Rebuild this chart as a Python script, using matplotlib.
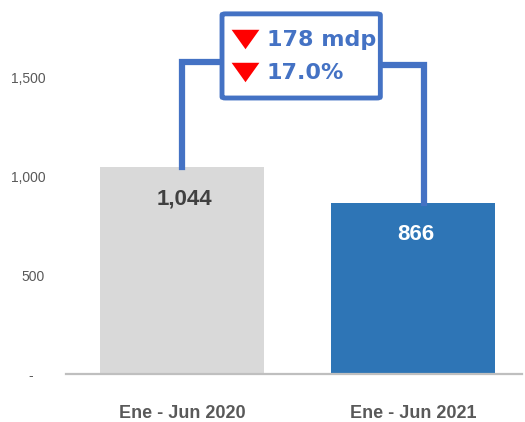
import matplotlib.pyplot as plt
from matplotlib.patches import FancyBboxPatch

# data
periods = ["Ene - Jun 2020", "Ene - Jun 2021"]
values = [1044, 866]
bar_colors = ["#D9D9D9", "#2E75B6"]
label_colors = ["#404040", "#FFFFFF"]
y_ticks = [0, 500, 1000, 1500]
y_tick_labels = ["-   ", "500", "1,000", "1,500"]
diff_abs = "178 mdp"
diff_pct = "17.0%"

line_blue = "#4472C4"
gray_txt = "#595959"

fig = plt.figure(figsize=(5.25, 4.22), dpi=100)
ax = fig.add_axes([66 / 525, 48 / 422, 456 / 525, 374 / 422])

x = list(range(len(values)))
ax.bar(x, values, width=0.708, color=bar_colors, zorder=2)
ax.set_xlim(-0.501, 1.469)
ax.set_ylim(0, 1889)

for i, v in enumerate(values):
    ax.text(i + 0.01, v - 160, f"{v:,}", ha="center", va="center",
            fontsize=16, fontweight="bold", color=label_colors[i],
            family="Liberation Sans")

# axes styling
for s in ["top", "right", "left"]:
    ax.spines[s].set_visible(False)
ax.spines["bottom"].set_color("#BFBFBF")
ax.spines["bottom"].set_linewidth(1.6)
ax.set_yticks(y_ticks)
ax.set_yticklabels(y_tick_labels, fontsize=10, color=gray_txt,
                   family="Liberation Sans")
ax.tick_params(axis="y", length=0, pad=15)
ax.set_xticks(x)
ax.set_xticklabels(periods, fontsize=13, fontweight="bold", color=gray_txt,
                   family="Liberation Sans")
ax.tick_params(axis="x", length=0, pad=22)

# connector lines from bar tops to the box
conn_y = 1575
ax.plot([0, 0, 0.17], [values[0], conn_y, conn_y], color=line_blue,
        lw=4.5, solid_joinstyle="miter", zorder=3, clip_on=False)
ax.plot([0.86, 1.047, 1.047], [conn_y - 12, conn_y - 12, values[1]],
        color=line_blue, lw=4.5, solid_joinstyle="miter", zorder=3,
        clip_on=False)

# annotation box
box = FancyBboxPatch((0.173, 1394), 0.684, 425,
                     boxstyle="round,pad=0,rounding_size=0.015",
                     fc="white", ec=line_blue, lw=3.5, zorder=4,
                     mutation_aspect=400, clip_on=False)
ax.add_patch(box)

tri = [(-1, 0.7), (1, 0.7), (0, -0.7), (-1, 0.7)]
for yv, txt in [(1688, diff_abs), (1521, diff_pct)]:
    ax.scatter([0.272], [yv + 3], marker=tri, s=400, color="#FF0000",
               zorder=5, clip_on=False, linewidths=0)
    ax.text(0.367, yv, txt, ha="left", va="center", fontsize=16,
            fontweight="bold", color=line_blue, family="DejaVu Sans",
            zorder=5)

fig.savefig("out.png", dpi=100)
